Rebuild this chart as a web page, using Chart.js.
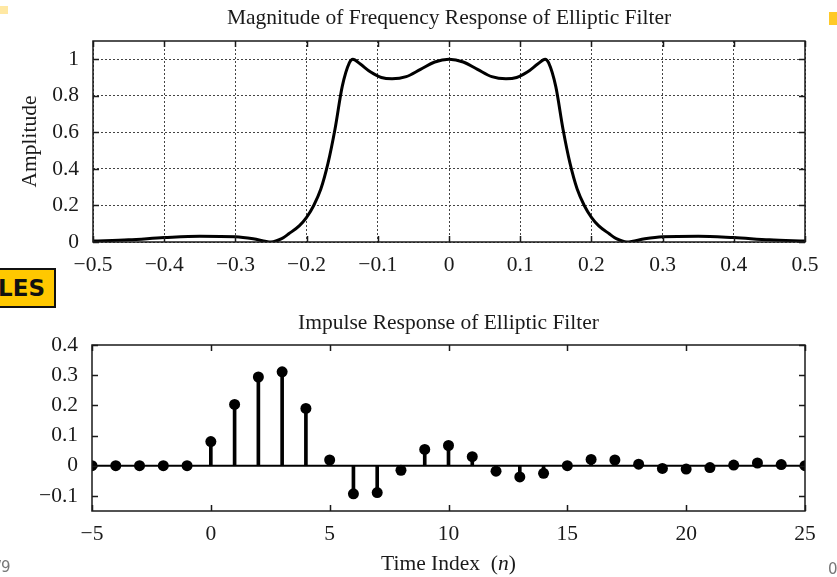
<!DOCTYPE html>
<html>
<head>
<meta charset="utf-8">
<script src="https://cdn.jsdelivr.net/npm/chart.js@4"></script>
<style>
  html, body { margin: 0; padding: 0; background: #fff; }
  #page { position: relative; width: 837px; height: 577px; overflow: hidden; }
  canvas { position: absolute; left: 0; }
  #freqChart { top: 0; }
  #impulseChart { top: 290px; }
  .tag { position: absolute; left: -14px; top: 268px; width: 66px; height: 36px; background: #ffc800;
         border: 2px solid #111; font: bold 23px 'DejaVu Sans', sans-serif; line-height: 36px;
         color: #111; }
  .tag span { position: absolute; right: 9px; }
  .corner { position: absolute; font: 15px 'DejaVu Sans', sans-serif; color: #777; }
  .spot { position: absolute; background: #ffd966; }
</style>
</head>
<body>
<div id="page">
  <canvas id="freqChart" width="837" height="290"></canvas>
  <canvas id="impulseChart" width="837" height="287"></canvas>
  <div class="spot" style="left:0;top:6px;width:8px;height:8px;opacity:0.6"></div>
  <div class="spot" style="left:829px;top:12px;width:8px;height:13px;background:#ffc928"></div>
  <div class="tag"><span>LES</span></div>
  <div class="corner" style="left:-4px;top:558px;">/9</div>
  <div class="corner" style="left:828px;top:560px;">0</div>
</div>
<script>
// --- frequency response (top) ---
const freqs = [-0.5, -0.45, -0.4, -0.35, -0.3, -0.275, -0.25, -0.235, -0.225, -0.21,
  -0.2, -0.19, -0.18, -0.17, -0.16, -0.15, -0.14, -0.135, -0.125, -0.11,
  -0.095, -0.08, -0.06, -0.04, -0.02, 0,
  0.02, 0.04, 0.06, 0.08, 0.095, 0.11, 0.125, 0.135, 0.14, 0.15,
  0.16, 0.17, 0.18, 0.19, 0.2, 0.21, 0.225, 0.235, 0.25, 0.275,
  0.3, 0.35, 0.4, 0.45, 0.5];
const amplitude = [0.005, 0.012, 0.024, 0.032, 0.029, 0.018, 0.0, 0.018, 0.045, 0.09,
  0.135, 0.2, 0.29, 0.43, 0.62, 0.85, 0.98, 1.0, 0.975, 0.93,
  0.9, 0.893, 0.905, 0.945, 0.985, 1.0,
  0.985, 0.945, 0.905, 0.893, 0.9, 0.93, 0.975, 1.0, 0.98, 0.85,
  0.62, 0.43, 0.29, 0.2, 0.135, 0.09, 0.045, 0.018, 0.0, 0.018,
  0.029, 0.032, 0.024, 0.012, 0.005];

// --- impulse response (bottom) ---
const timeIndex = [-5, -4, -3, -2, -1, 0, 1, 2, 3, 4, 5, 6, 7, 8, 9, 10, 11, 12, 13, 14,
  15, 16, 17, 18, 19, 20, 21, 22, 23, 24, 25];
const impulse = [0, 0, 0, 0, 0, 0.08, 0.203, 0.294, 0.311, 0.19,
  0.019, -0.093, -0.089, -0.015, 0.054, 0.067, 0.03, -0.018, -0.037, -0.025,
  0.0, 0.021, 0.019, 0.005, -0.009, -0.011, -0.006, 0.002, 0.009, 0.004, 0];

const serif = "'Liberation Serif', 'Times New Roman', serif";
const ink = '#1a1a1a';
const tickFont = { family: serif, size: 21.5 };

function minus(v) {
  return String(v).replace('-', '\u2212');
}

// box round the plot and short ticks pointing inward on all four sides
const frameTicks = {
  id: 'frameTicks',
  afterDraw(chart) {
    const { ctx, chartArea: a, scales } = chart;
    const len = 6;
    ctx.save();
    ctx.strokeStyle = ink;
    ctx.lineWidth = 1.5;
    ctx.beginPath();
    scales.x.ticks.forEach(t => {
      const px = Math.round(scales.x.getPixelForValue(t.value)) + 0.5;
      ctx.moveTo(px, a.bottom); ctx.lineTo(px, a.bottom - len);
      ctx.moveTo(px, a.top); ctx.lineTo(px, a.top + len);
    });
    scales.y.ticks.forEach(t => {
      const py = Math.round(scales.y.getPixelForValue(t.value)) + 0.5;
      ctx.moveTo(a.left, py); ctx.lineTo(a.left + len, py);
      ctx.moveTo(a.right, py); ctx.lineTo(a.right - len, py);
    });
    ctx.stroke();
    ctx.strokeRect(a.left, a.top, a.right - a.left, a.bottom - a.top);
    ctx.restore();
  }
};

// titles centred on the plot area; parts are [text, style]
function textRow(id, parts, yPos) {
  return {
    id: id,
    afterDraw(chart) {
      const { ctx, chartArea: a } = chart;
      ctx.save();
      ctx.fillStyle = ink;
      ctx.textBaseline = 'middle';
      let total = 0;
      parts.forEach(p => { ctx.font = p[1] + ' 21.5px ' + serif; total += ctx.measureText(p[0]).width; });
      let x = (a.left + a.right) / 2 - total / 2;
      parts.forEach(p => {
        ctx.font = p[1] + ' 21.5px ' + serif;
        ctx.fillText(p[0], x, yPos);
        x += ctx.measureText(p[0]).width;
      });
      ctx.restore();
    }
  };
}

function fixedWidth(w) { return scale => { scale.width = w; }; }
function fixedHeight(h) { return scale => { scale.height = h; }; }

new Chart(document.getElementById('freqChart'), {
  type: 'line',
  data: {
    datasets: [{
      data: freqs.map((f, i) => ({ x: f, y: amplitude[i] })),
      borderColor: '#000',
      borderWidth: 3,
      pointRadius: 0,
      cubicInterpolationMode: 'monotone',
      fill: false
    }]
  },
  options: {
    responsive: false,
    animation: false,
    devicePixelRatio: 1,
    layout: { padding: { left: 0, right: 32, top: 41, bottom: 0 } },
    plugins: {
      legend: { display: false },
      tooltip: { enabled: false },
      title: { display: false }
    },
    scales: {
      x: {
        type: 'linear', min: -0.5, max: 0.5,
        afterFit: fixedHeight(48),
        ticks: { stepSize: 0.1, padding: 10.5, color: ink, font: tickFont,
          maxRotation: 0, callback: v => minus(Number(v.toFixed(1))) },
        grid: { color: '#444', lineWidth: 1, drawTicks: false, borderDash: [2, 2] },
        border: { display: false, dash: [2, 2] }
      },
      y: {
        type: 'linear', min: 0, max: 1.1,
        afterFit: fixedWidth(93),
        ticks: { stepSize: 0.2, includeBounds: false, padding: 14, color: ink,
          font: tickFont, callback: v => minus(Number(v.toFixed(1))) },
        grid: { color: '#444', lineWidth: 1, drawTicks: false, borderDash: [2, 2] },
        border: { display: false, dash: [2, 2] },
        title: { display: true, text: 'Amplitude', color: ink, padding: { top: 17, bottom: 0 },
          font: { family: serif, size: 21.5 } }
      }
    }
  },
  plugins: [frameTicks,
    textRow('freqTitle', [['Magnitude of Frequency Response of Elliptic Filter', 'normal']], 18)]
});

new Chart(document.getElementById('impulseChart'), {
  type: 'bar',
  data: {
    datasets: [{
      type: 'line',
      data: timeIndex.map((n, i) => ({ x: n, y: impulse[i] })),
      showLine: false,
      pointRadius: 5.5,
      pointBackgroundColor: '#000',
      pointBorderColor: '#000',
      pointBorderWidth: 0
    }, {
      type: 'bar',
      data: timeIndex.map((n, i) => ({ x: n, y: impulse[i] })),
      backgroundColor: '#000',
      barThickness: 3
    }, {
      type: 'line',
      data: [{ x: timeIndex[0], y: 0 }, { x: timeIndex[timeIndex.length - 1], y: 0 }],
      borderColor: '#000',
      borderWidth: 2,
      pointRadius: 0
    }]
  },
  options: {
    responsive: false,
    animation: false,
    devicePixelRatio: 1,
    layout: { padding: { left: 0, right: 32, top: 55, bottom: 0 } },
    plugins: {
      legend: { display: false },
      tooltip: { enabled: false },
      title: { display: false }
    },
    scales: {
      x: {
        type: 'linear', min: -5, max: 25, offset: false,
        afterFit: fixedHeight(66),
        ticks: { stepSize: 5, padding: 10, color: ink, font: tickFont,
          maxRotation: 0, callback: v => minus(v) },
        grid: { display: false, drawTicks: false },
        border: { display: false }
      },
      y: {
        type: 'linear', min: -0.15, max: 0.4,
        afterFit: fixedWidth(92),
        ticks: { stepSize: 0.1, includeBounds: false, padding: 14, color: ink,
          font: tickFont, callback: v => minus(Number(v.toFixed(1))) },
        grid: { display: false, drawTicks: false },
        border: { display: false }
      }
    }
  },
  plugins: [frameTicks,
    textRow('impulseTitle', [['Impulse Response of Elliptic Filter', 'normal']], 33),
    textRow('timeTitle', [['Time Index  (', 'normal'], ['n', 'italic'], [')', 'normal']], 274)]
});
</script>
</body>
</html>
